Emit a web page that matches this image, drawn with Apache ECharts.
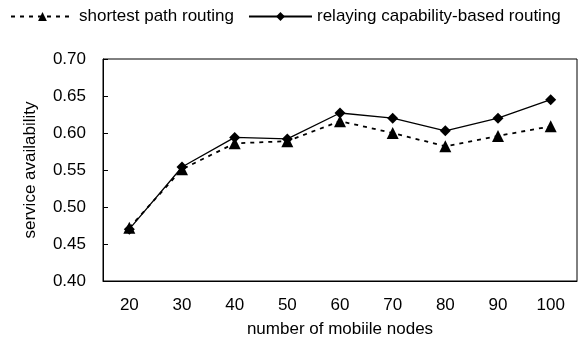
<!DOCTYPE html>
<html><head><meta charset="utf-8">
<script src="https://cdn.jsdelivr.net/npm/echarts@6/dist/echarts.min.js"></script>
<style>html,body{margin:0;padding:0;background:#fff}#c{width:579px;height:338px}</style>
</head><body><div id="c"></div>
<script>
const categories = ['20','30','40','50','60','70','80','90','100'];
const shortestPath = [0.472, 0.551, 0.586, 0.589, 0.616, 0.600, 0.582, 0.596, 0.609];
const relaying = [0.470, 0.554, 0.594, 0.592, 0.627, 0.620, 0.603, 0.620, 0.645];
const yTicks = { min: 0.40, max: 0.70, interval: 0.05 };

const font = 'Liberation Sans, Arial, sans-serif';
const fs = 17;
const chart = echarts.init(document.getElementById('c'));
chart.setOption({
  animation: false,
  textStyle: { fontFamily: font, color: '#000' },
  legend: {
    top: 8, left: 10, padding: 0, itemGap: 14, itemWidth: 63, itemHeight: 11,
    textStyle: { fontFamily: font, fontSize: 17, color: '#000' },
    data: ['shortest path routing', 'relaying capability-based routing']
  },
  grid: { left: 103, right: 2, top: 59, bottom: 57, show: true, borderColor: '#000', borderWidth: 1,
          containLabel: false, outerBoundsMode: 'none' },
  xAxis: {
    type: 'category', data: categories, boundaryGap: true,
    name: 'number of mobiile nodes', nameLocation: 'middle', nameGap: 40,
    nameTextStyle: { fontFamily: font, fontSize: fs, color: '#000' },
    axisLine: { lineStyle: { color: '#000', width: 1 } },
    axisTick: { inside: true, length: 5, lineStyle: { color: '#000' } },
    axisLabel: { fontFamily: font, fontSize: fs, color: '#000', margin: 16 },
    splitLine: { show: false }
  },
  yAxis: {
    type: 'value', min: yTicks.min, max: yTicks.max, interval: yTicks.interval,
    name: 'service availability', nameLocation: 'middle', nameGap: 64,
    nameTextStyle: { fontFamily: font, fontSize: fs, color: '#000' },
    axisLine: { show: true, lineStyle: { color: '#000', width: 1 } },
    axisTick: { show: true, inside: true, length: 5, lineStyle: { color: '#000' } },
    axisLabel: { fontFamily: font, fontSize: fs, color: '#000', margin: 17, formatter: v => v.toFixed(2) },
    splitLine: { show: false }
  },
  series: [
    {
      name: 'shortest path routing', type: 'line', data: shortestPath,
      symbol: 'triangle', symbolSize: 12,
      itemStyle: { color: '#000' },
      lineStyle: { color: '#000', width: 1.8, type: [4, 5] }
    },
    {
      name: 'relaying capability-based routing', type: 'line', data: relaying,
      symbol: 'diamond', symbolSize: 11,
      itemStyle: { color: '#000' },
      lineStyle: { color: '#000', width: 1.3, type: 'solid' }
    }
  ]
});
</script></body></html>
